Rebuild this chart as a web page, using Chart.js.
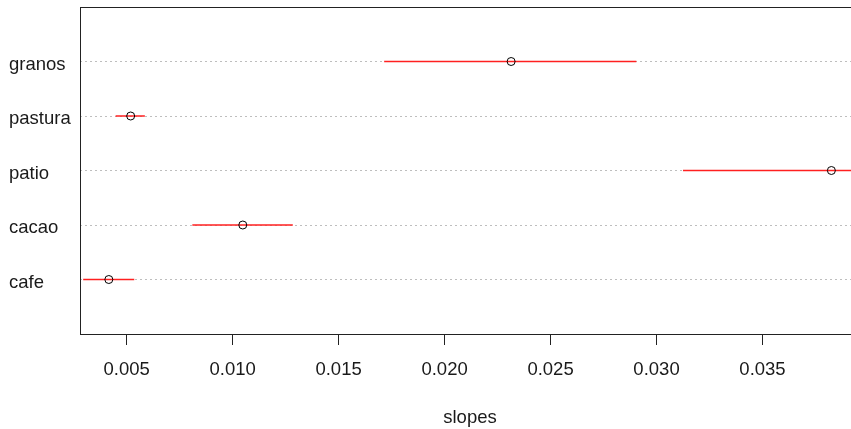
<!DOCTYPE html>
<html>
<head>
<meta charset="utf-8">
<script src="https://cdn.jsdelivr.net/npm/chart.js@4.4.0/dist/chart.umd.min.js"></script>
<style>
  html, body { margin: 0; padding: 0; background: #fff; }
  #view { position: relative; width: 851px; height: 429px; overflow: hidden; }
  #view canvas { position: absolute; left: 0; top: 0; display: block; }
</style>
</head>
<body>
<div id="view"><canvas id="c" width="862" height="429"></canvas></div>
<script>
// Land-use categories, bottom row first
const categories = ['cafe', 'cacao', 'patio', 'pastura', 'granos'];
// Estimated slope per category with its interval
const slopes = [0.00416, 0.01048, 0.03825, 0.00519, 0.02314];
const lower  = [0.00295, 0.00810, 0.03125, 0.00448, 0.01715];
const upper  = [0.00536, 0.01284, 0.04525, 0.00586, 0.02905];
// Axis ticks and limits
const xTicks = [0.005, 0.010, 0.015, 0.020, 0.025, 0.030, 0.035];
const xLimits = [0.0028, 0.0396];

const FONT = { family: "'Liberation Sans', Arial, sans-serif", size: 18.5 };
const INK = '#1a1a1a';

// Interval segments, one dataset per row
const segmentSets = categories.map((name, i) => ({
  label: name + ' interval',
  data: [{ x: lower[i], y: i + 1 }, { x: upper[i], y: i + 1 }],
  showLine: true,
  borderColor: '#ff2020',
  borderWidth: 1.5,
  pointRadius: 0,
  pointHoverRadius: 0,
  borderCapStyle: 'butt'
}));

// Point estimates drawn on top
const pointSet = {
  label: 'slopes',
  data: categories.map((_, i) => ({ x: slopes[i], y: i + 1 })),
  pointStyle: 'circle',
  pointRadius: 4,
  pointBorderWidth: 1,
  pointBorderColor: '#000',
  pointBackgroundColor: 'rgba(0,0,0,0)',
  showLine: false
};

// Plot box around the chart area (its right side falls outside the view)
const frame = {
  id: 'frame',
  afterDraw(chart) {
    const { ctx, chartArea: a } = chart;
    const l = Math.round(a.left) + 0.5, t = Math.round(a.top) + 0.5;
    const r = Math.round(a.right) + 0.5, b = Math.round(a.bottom) + 0.5;
    ctx.save();
    ctx.strokeStyle = '#222';
    ctx.lineWidth = 1;
    ctx.strokeRect(l, t, r - l, b - t);
    ctx.restore();
  }
};

new Chart(document.getElementById('c'), {
  type: 'scatter',
  data: { datasets: [pointSet, ...segmentSets] },
  options: {
    responsive: false,
    animation: false,
    devicePixelRatio: 1,
    layout: { autoPadding: false, padding: { left: 9, top: 7, right: 2, bottom: 0 } },
    plugins: { legend: { display: false }, tooltip: { enabled: false } },
    scales: {
      x: {
        type: 'linear',
        position: 'bottom',
        min: xLimits[0],
        max: xLimits[1],
        afterBuildTicks: s => { s.ticks = xTicks.map(v => ({ value: v })); },
        afterFit: s => { s.height = 95; s.paddingLeft = 0; s.paddingRight = 0; },
        grid: { drawOnChartArea: false, drawTicks: true, tickLength: 11, color: '#222', lineWidth: 1 },
        border: { display: false },
        ticks: {
          font: FONT, color: INK, padding: 14, maxRotation: 0, autoSkip: false,
          callback: v => Number(v).toFixed(3)
        },
        title: { display: true, text: 'slopes', font: FONT, color: INK, padding: { top: 0, bottom: 0 } }
      },
      y: {
        type: 'linear',
        position: 'left',
        min: 0,
        max: 6,
        afterBuildTicks: s => { s.ticks = categories.map((_, i) => ({ value: i + 1 })); },
        afterFit: s => { s.width = 71; s.paddingTop = 0; s.paddingBottom = 0; },
        grid: { drawTicks: false, color: '#bebebe', lineWidth: 1 },
        border: { display: false, dash: [2, 3] },
        ticks: {
          font: FONT, color: INK, crossAlign: 'far', padding: 0, labelOffset: 3,
          callback: v => categories[Math.round(v) - 1]
        }
      }
    }
  },
  plugins: [frame]
});
</script>
</body>
</html>
